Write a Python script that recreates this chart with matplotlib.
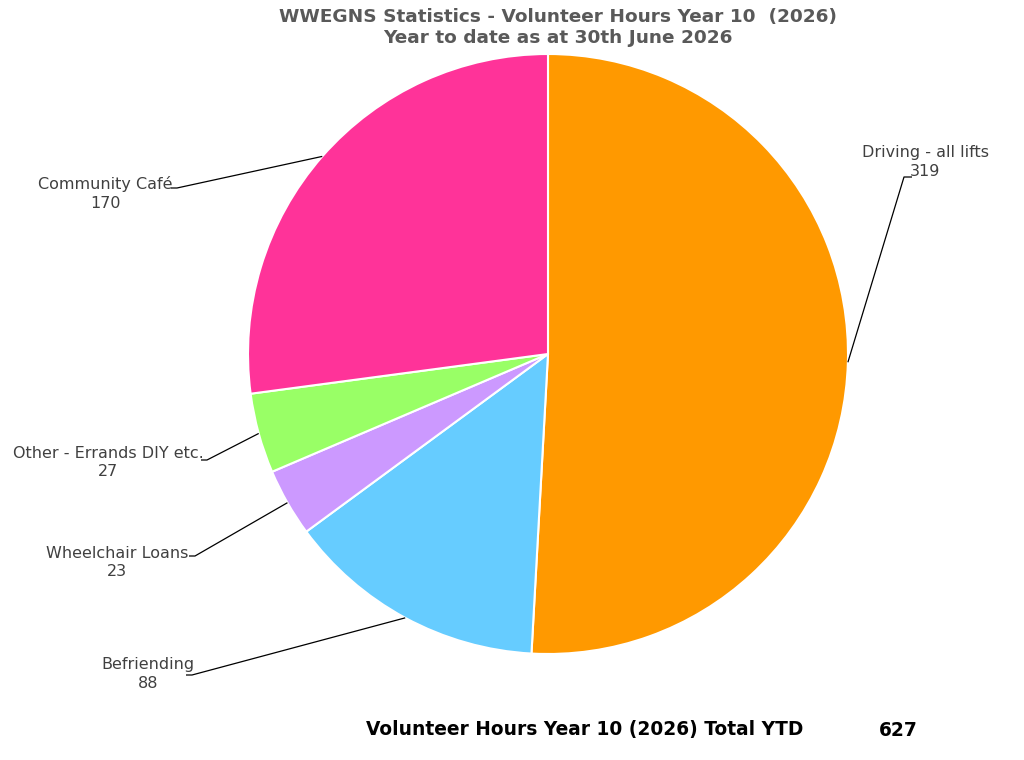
import matplotlib
matplotlib.use("Agg")
import matplotlib.pyplot as plt
import numpy as np

categories = ["Driving - all lifts", "Befriending", "Wheelchair Loans",
              "Other - Errands DIY etc.", "Community Café"]
values = [319, 88, 23, 27, 170]
colors = ["#FF9900", "#66CCFF", "#CC99FF", "#99FF66", "#FF3399"]
title_lines = ["WWEGNS Statistics - Volunteer Hours Year 10  (2026)",
               "Year to date as at 30th June 2026"]
total_label = "Volunteer Hours Year 10 (2026) Total YTD"

W, H = 1024, 760
fig = plt.figure(figsize=(W / 100, H / 100), dpi=100)
ax = fig.add_axes([0, 0, 1, 1])
ax.set_xlim(0, W)
ax.set_ylim(0, H)
ax.set_aspect("equal")
ax.axis("off")

cx, cy, R = 548, H - 354, 300
wedges, _ = ax.pie(values, colors=colors, startangle=90, counterclock=False,
                   center=(cx, cy), radius=R, frame=True,
                   wedgeprops=dict(edgecolor="white", linewidth=1.5))
ax.set_xlim(0, W)
ax.set_ylim(0, H)
ax.axis("off")

# label anchor positions (pixel coords from top) : (text center x, name y, line end x, line end y, side)
label_pos = {
    "Driving - all lifts": (925, 152, 904, 177, "right"),
    "Befriending": (148, 665, 192, 675, "left"),
    "Wheelchair Loans": (117, 553, 195, 556, "left"),
    "Other - Errands DIY etc.": (108, 453, 207, 460, "left"),
    "Community Café": (105, 184, 177, 188, "left"),
}

for w, cat, val in zip(wedges, categories, values):
    mid = np.deg2rad((w.theta1 + w.theta2) / 2)
    ex, ey = cx + R * np.cos(mid), cy + R * np.sin(mid)
    tx, ty, lx, ly, side = label_pos[cat]
    ly = H - ly
    if side == "right":
        xs = [ex, lx, lx + 8]
        ys = [ey, ly, ly]
    else:
        xs = [ex, lx, lx - 6]
        ys = [ey, ly, ly]
    ax.plot(xs, ys, color="#000000", lw=0.9, solid_capstyle="butt")
    ax.text(tx, H - ty, cat, ha="center", va="center", fontsize=11.5,
            color="#404040", family="DejaVu Sans")
    ax.text(tx, H - ty - 19, str(val), ha="center", va="center", fontsize=11.5,
            color="#404040", family="DejaVu Sans")

ax.text(558, H - 17, title_lines[0], ha="center", va="center", fontsize=13.3,
        fontweight="bold", color="#595959")
ax.text(558, H - 38, title_lines[1], ha="center", va="center", fontsize=13.3,
        fontweight="bold", color="#595959")

ax.text(366, H - 730, total_label, ha="left", va="center", fontsize=13.4,
        fontweight="bold", color="black")
ax.text(918, H - 730, str(sum(values)), ha="right", va="center", fontsize=13.4,
        fontweight="bold", color="black")

fig.savefig("out.png", dpi=100, facecolor="white")
